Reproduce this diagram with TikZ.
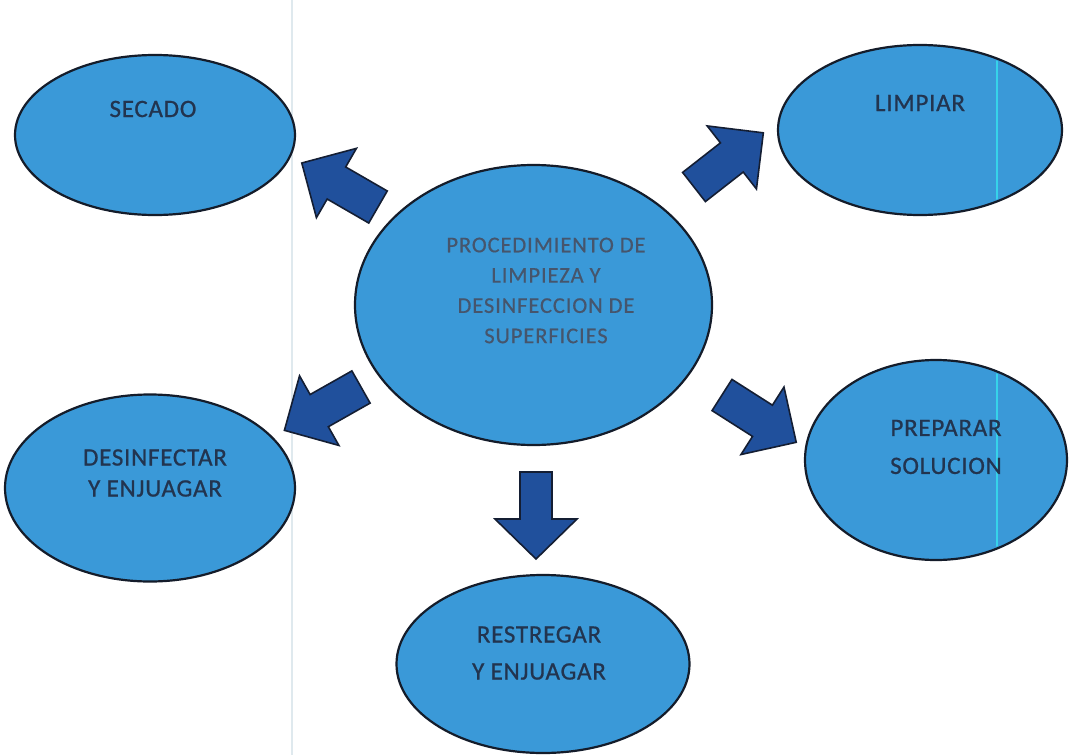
\documentclass[tikz,border=0pt]{standalone}
\usepackage{fontspec}
\newfontfamily\lab{Carlito}[LetterSpace=3, FakeBold=0.8]
\newfontfamily\labc{Carlito}[LetterSpace=4, FakeBold=0.5]
\usetikzlibrary{shapes.geometric}
\definecolor{bubfill}{HTML}{3A99D8}
\definecolor{bubline}{HTML}{141C2A}
\definecolor{arrfill}{HTML}{20509C}
\definecolor{arrline}{HTML}{141E33}
\definecolor{txtout}{HTML}{22344F}
\definecolor{txtmid}{HTML}{46556C}
\definecolor{scanline}{HTML}{DFE9EE}
\definecolor{cyanline}{HTML}{36D3EA}
\tikzset{
  bub/.style={ellipse, draw=bubline, line width=2.2pt, fill=bubfill, inner sep=0pt},
  lbl/.style={align=center, inner sep=0pt, text=txtout},
  blockarrow/.pic={
    \draw[fill=arrfill, draw=arrline, line width=1.6pt, line join=miter]
      (0,-18.5)--(48,-18.5)--(48,-40)--(88,0)--(48,40)--(48,18.5)--(0,18.5)--cycle;
  },
  narrowarrow/.pic={
    \draw[fill=arrfill, draw=arrline, line width=1.6pt, line join=miter]
      (0,-16)--(47,-16)--(47,-41)--(87,0)--(47,41)--(47,16)--(0,16)--cycle;
  }
}
\begin{document}
\begin{tikzpicture}[x=1pt,y=-1pt]
\useasboundingbox[fill=white] (0,0) rectangle (1077,755);
\draw[scanline, line width=1.5pt] (292,0) -- (292,755);

% ellipses
\node[bub, minimum width=280pt, minimum height=160pt] (secado) at (155,135) {};
\node[bub, minimum width=284pt, minimum height=170pt] (limpiar) at (920,130) {};
\node[bub, minimum width=357pt, minimum height=280pt] (centro) at (533.5,305) {};
\node[bub, minimum width=290pt, minimum height=187pt] (desinf) at (150,488) {};
\node[bub, minimum width=262pt, minimum height=200pt] (preparar) at (936,460) {};
\node[bub, minimum width=293pt, minimum height=178pt] (restregar) at (543,664) {};

% scan artefact line
\begin{scope}
  \clip (limpiar.center) ellipse [x radius=140pt, y radius=83pt];
  \draw[cyanline, line width=1.2pt] (997,0) -- (997,300);
\end{scope}
\begin{scope}
  \clip (preparar.center) ellipse [x radius=129pt, y radius=98pt];
  \draw[cyanline, line width=1.2pt] (997,300) -- (997,600);
\end{scope}

% labels
\node[lbl, font=\lab\fontsize{25}{31}\selectfont] (t-secado) at (153,109) {SECADO};
\node[lbl, font=\lab\fontsize{25}{31}\selectfont] (t-limpiar) at (920,103) {LIMPIAR};
\node[lbl, font=\lab\fontsize{25}{31}\selectfont] (t-desinf) at (155,473) {DESINFECTAR\\Y ENJUAGAR};
\node[lbl, font=\lab\fontsize{25}{38}\selectfont] (t-preparar) at (946,447) {PREPARAR\\SOLUCION};
\node[lbl, font=\lab\fontsize{25}{37}\selectfont] (t-restregar) at (539,653) {RESTREGAR\\Y ENJUAGAR};
\node[lbl, text=txtmid, font=\labc\fontsize{22.5}{30.3}\selectfont] (t-centro) at (546,290.5)
  {PROCEDIMIENTO DE\\LIMPIEZA Y\\DESINFECCION DE\\SUPERFICIES};

% block arrows
\coordinate (a-nw) at (378,207);
\coordinate (a-ne) at (694,187);
\coordinate (a-sw) at (361,387);
\coordinate (a-se) at (722,395);
\coordinate (a-s)  at (536,472);
\pic[rotate=150]   at (a-nw) {blockarrow};
\pic[rotate=38]    at (a-ne) {blockarrow};
\pic[rotate=209.5] at (a-sw) {blockarrow};
\pic[rotate=-32.5] at (a-se) {blockarrow};
\pic[rotate=-90]   at (a-s)  {narrowarrow};
\end{tikzpicture}
\end{document}
